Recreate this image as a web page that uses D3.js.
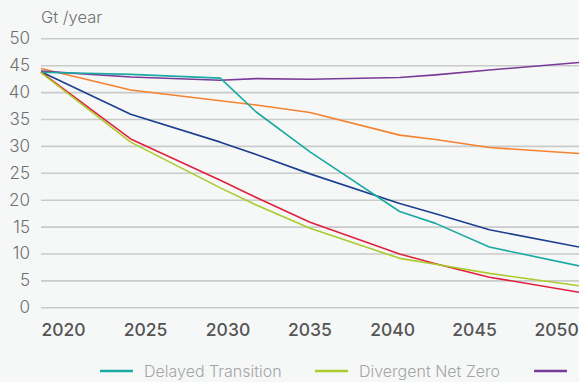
<!DOCTYPE html>
<html>
<head>
<meta charset="utf-8">
<script src="https://cdn.jsdelivr.net/npm/d3@7"></script>
<style>
  html, body { margin: 0; padding: 0; background: #f6f8f8; }
  svg { display: block; font-family: Inter, "Noto Sans", sans-serif; }
</style>
</head>
<body>
<svg id="chart" width="579" height="382"></svg>
<script>
// values, Gt CO2 / year
const years = [2020, 2025, 2030, 2032, 2035, 2040, 2042, 2045, 2050];
const delayedTransition = [43.7, 43.3, 42.6, 36.3, 28.9, 17.8, 15.6, 11.2, 7.7];
const divergentNetZero  = [43.6, 30.7, 22.2, 19.0, 14.7, 9.1, 8.0, 6.3, 4.0];
const currentPolicies   = [43.9, 42.8, 42.2, 42.5, 42.4, 42.7, 43.2, 44.1, 45.5];
const ndcs              = [44.4, 40.4, 38.4, 37.6, 36.2, 32.0, 31.2, 29.7, 28.6];
const below2c           = [43.8, 35.9, 30.7, 28.4, 24.8, 19.3, 17.4, 14.4, 11.2];
const netZero2050       = [43.7, 31.3, 23.6, 20.4, 15.8, 9.9, 8.1, 5.6, 2.8];

const yTicks = [0, 5, 10, 15, 20, 25, 30, 35, 40, 45, 50];
const xLabels = ["2020", "2025", "2030", "2035", "2040", "2045", "2050"];
const legendNames = ["Delayed Transition", "Divergent Net Zero", "Current Policies"];

const series = [
  { name: "Nationally Determined Contributions", values: ndcs, color: "#f5822f" },
  { name: "Current Policies", values: currentPolicies, color: "#7a3a98" },
  { name: "Below 2\u00b0C", values: below2c, color: "#1c3f8f" },
  { name: "Delayed Transition", values: delayedTransition, color: "#1aa9a3" },
  { name: "Net Zero 2050", values: netZero2050, color: "#e0203f" },
  { name: "Divergent Net Zero", values: divergentNetZero, color: "#aacb2a" }
];
const colorOf = {};
series.forEach(s => colorOf[s.name] = s.color);

const svg = d3.select("#chart");
const W = 579, padL = 41, padT = 38.3, baseY = 307.3;

const x = d3.scaleLinear().domain([2020, 2050]).range([padL, W]);
const y = d3.scaleLinear().domain([0, 50]).range([baseY, padT]);
// the axis labels in the source sit on their own even spacing
const xl = d3.scalePoint().domain(xLabels).range([padL, 534]);

// grid + y labels
const gy = svg.append("g")
  .attr("transform", `translate(${padL},0)`)
  .call(d3.axisLeft(y).tickValues(yTicks).tickSize(-(W - padL)).tickPadding(11));
gy.select(".domain").remove();
gy.selectAll(".tick line").attr("stroke", "#c9cbcb").attr("stroke-width", 1.6);
gy.selectAll(".tick text")
  .attr("fill", "#6f6f6f").attr("font-size", 17).attr("font-weight", 300)
  .attr("font-family", "Inter, sans-serif");

svg.append("text")
  .attr("x", 41).attr("y", 23)
  .attr("fill", "#6f6f6f").attr("font-size", 16.5).attr("font-weight", 300)
  .text("Gt /year");

// x labels
const gx = svg.append("g")
  .attr("transform", `translate(0,${baseY})`)
  .call(d3.axisBottom(xl).tickSize(0).tickPadding(16));
gx.select(".domain").remove();
gx.selectAll(".tick text")
  .attr("text-anchor", "start").attr("dy", "0.71em")
  .attr("fill", "#555").attr("font-size", 17.5).attr("font-weight", 500)
  .attr("font-family", "Inter, sans-serif");

// lines
const line = d3.line()
  .x((d, i) => x(years[i]))
  .y(d => y(d));

svg.append("g").selectAll("path")
  .data(series)
  .join("path")
  .attr("d", d => line(d.values))
  .attr("fill", "none")
  .attr("stroke", d => d.color)
  .attr("stroke-width", 1.6)
  .attr("stroke-linejoin", "round");

// legend (cut by the right edge in the source)
const legendX = [100, 315, 534];
const lg = svg.append("g").selectAll("g")
  .data(legendNames)
  .join("g")
  .attr("transform", (d, i) => `translate(${legendX[i]},371)`);
lg.append("line")
  .attr("x1", 0).attr("x2", 33)
  .attr("stroke", d => colorOf[d]).attr("stroke-width", 2.5);
lg.filter((d, i) => i < 2).append("text")
  .attr("x", 44).attr("dy", "0.36em")
  .attr("fill", "#a5a5a5").attr("font-size", 16).attr("font-weight", 300)
  .text(d => d);
</script>
</body>
</html>
